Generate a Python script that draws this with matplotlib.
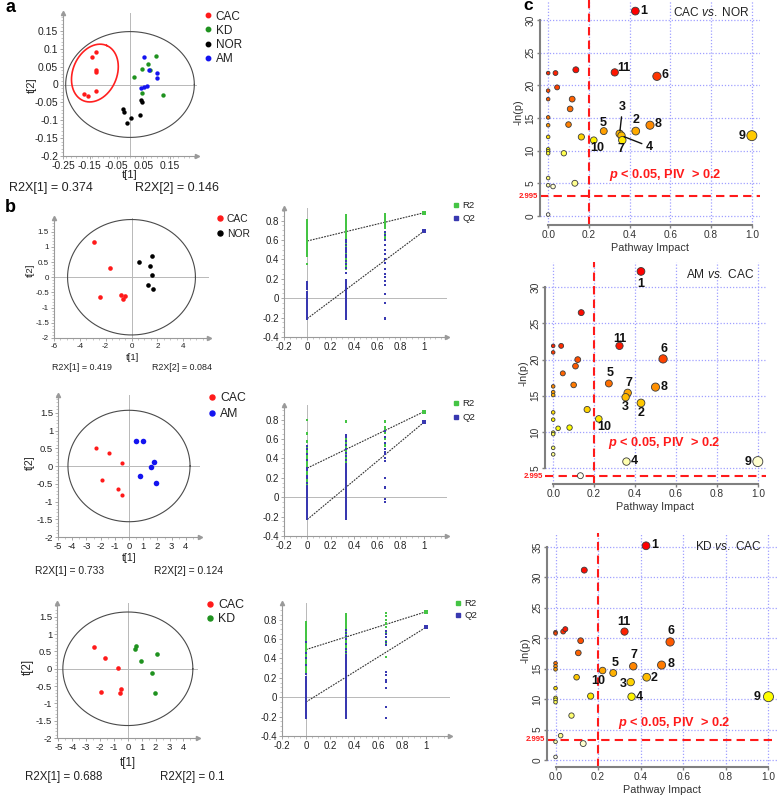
import colorsys
import numpy as np
import matplotlib
matplotlib.use('Agg')
import matplotlib.pyplot as plt
from matplotlib.lines import Line2D
from matplotlib.ticker import FuncFormatter, MultipleLocator

W, H = 778, 798

plt.rcParams['font.family'] = ['Liberation Sans', 'DejaVu Sans']
plt.rcParams['mathtext.fontset'] = 'custom'
plt.rcParams['mathtext.rm'] = 'Liberation Sans'
plt.rcParams['mathtext.it'] = 'Liberation Sans:italic'
plt.rcParams['mathtext.bf'] = 'Liberation Sans:bold'
plt.rcParams['mathtext.bfit'] = 'Liberation Sans:bold:italic'

# ---------------- data: panel a (PCA scores, 4 groups) ----------------
a_cac_t1 = [-0.127, -0.143, -0.128, -0.128, -0.172, -0.155, -0.128]
a_cac_t2 = [0.091, 0.077, 0.041, 0.035, -0.027, -0.031, -0.018]
a_kd_t1 = [0.096, 0.068, 0.046, 0.075, 0.016, 0.044, 0.122]
a_kd_t2 = [0.081, 0.058, 0.042, 0.041, 0.022, -0.025, -0.030]
a_nor_t1 = [-0.027, -0.021, 0.004, -0.010, 0.040, 0.044, 0.039]
a_nor_t2 = [-0.069, -0.078, -0.094, -0.107, -0.043, -0.050, -0.085]
a_am_t1 = [0.053, 0.072, 0.100, 0.100, 0.062, 0.053, 0.041]
a_am_t2 = [0.078, 0.041, 0.033, 0.019, -0.003, -0.006, -0.011]
a_r2x = ['0.374', '0.146']
a_t2_ellipse = [0.24, 0.148]

# ---------------- data: panel b (OPLS-DA scores) ----------------
b1_cac_t1 = [-2.91, -1.66, -2.44, -0.83, -0.49, -0.65]
b1_cac_t2 = [1.17, 0.32, -0.65, -0.58, -0.63, -0.72]
b1_nor_t1 = [1.58, 0.60, 1.45, 1.58, 1.25, 1.64]
b1_nor_t2 = [0.71, 0.51, 0.38, 0.08, -0.27, -0.39]
b1_r2x = ['0.419', '0.084']
b1_t2_ellipse = [4.95, 1.9]

b2_cac_t1 = [-2.30, -1.43, -0.52, -1.87, -0.77, -0.52]
b2_cac_t2 = [0.52, 0.38, 0.09, -0.40, -0.65, -0.83]
b2_am_t1 = [0.52, 1.01, 1.73, 1.57, 0.75, 1.87]
b2_am_t2 = [0.70, 0.71, 0.11, -0.04, -0.27, -0.49]
b2_r2x = ['0.733', '0.124']
b2_t2_ellipse = [4.3, 1.57]

b3_cac_t1 = [-2.47, -1.61, -0.72, -1.94, -0.48, -0.53]
b3_cac_t2 = [0.63, 0.32, 0.01, -0.66, -0.57, -0.69]
b3_kd_t1 = [0.60, 0.48, 0.96, 2.09, 1.75, 1.92]
b3_kd_t2 = [0.65, 0.56, 0.22, 0.43, -0.13, -0.69]
b3_r2x = ['0.688', '0.1']
b3_t2_ellipse = [4.68, 1.64]

# ---------------- data: panel b (permutation tests) ----------------
perm_x = [0.0, 0.333, 0.667]

p1_r2_x0 = [0.35, 0.43, 0.45, 0.46, 0.48, 0.49, 0.51, 0.52, 0.54, 0.55, 0.57, 0.58, 0.6, 0.61,
            0.63, 0.64, 0.66, 0.67, 0.69, 0.7, 0.72, 0.73, 0.75, 0.76, 0.78, 0.79, 0.81]
p1_q2_x0 = [-0.21, -0.2, -0.18, -0.17, -0.15, -0.13, -0.12, -0.1, -0.08, -0.07, -0.05, -0.04,
            -0.02, 0.0, 0.01, 0.03, 0.04, 0.06, 0.1, 0.12, 0.13, 0.15, 0.17]
p1_r2_x33 = [0.3, 0.33, 0.35, 0.37, 0.39, 0.41, 0.43, 0.45, 0.47, 0.49, 0.5, 0.52, 0.54, 0.56,
             0.58, 0.6, 0.62, 0.64, 0.66, 0.68, 0.7, 0.72, 0.74, 0.76, 0.78, 0.8, 0.82, 0.84, 0.86]
p1_q2_x33 = [-0.21, -0.2, -0.18, -0.17, -0.15, -0.14, -0.12, -0.1, -0.09, -0.07, -0.05, -0.04,
             -0.02, 0.0, 0.02, 0.04, 0.05, 0.07, 0.09, 0.11, 0.13, 0.15, 0.17, 0.19, 0.26, 0.31,
             0.35, 0.38, 0.42, 0.45, 0.48, 0.5, 0.52, 0.55, 0.58, 0.6]
p1_r2_x67 = [0.62, 0.64, 0.66, 0.68, 0.72, 0.74, 0.76, 0.78, 0.8, 0.82, 0.84, 0.86, 0.87]
p1_q2_x67 = [-0.21, -0.2, -0.05, 0.04, 0.14, 0.18, 0.22, 0.25, 0.3, 0.36, 0.4, 0.46, 0.5, 0.55,
             0.6, 0.65, 0.68]
p1_orig = [0.88, 0.69]        # R2, Q2 of the real model
p1_intercept = [0.59, -0.21]  # R2, Q2 intercepts

p2_r2_x0 = [0.14, 0.16, 0.18, 0.2, 0.22, 0.24, 0.26, 0.28, 0.3, 0.32, 0.34, 0.36, 0.38, 0.4,
            0.42, 0.44, 0.46, 0.48, 0.5, 0.52, 0.57, 0.58, 0.65, 0.66, 0.8]
p2_q2_x0 = [-0.22, -0.2, -0.18, -0.16, -0.14, -0.12, -0.1, -0.08, -0.06, -0.04, -0.02, 0.0, 0.02,
            0.04, 0.06, 0.08, 0.1, 0.12, 0.15, 0.2, 0.22, 0.28, 0.3, 0.38, 0.45, 0.5, 0.53]
p2_r2_x33 = [0.2, 0.22, 0.24, 0.26, 0.28, 0.3, 0.32, 0.34, 0.36, 0.38, 0.4, 0.42, 0.44, 0.46,
             0.48, 0.5, 0.52, 0.54, 0.56, 0.58, 0.6, 0.62, 0.64, 0.77, 0.78]
p2_q2_x33 = [-0.22, -0.2, -0.18, -0.16, -0.14, -0.12, -0.1, -0.08, -0.06, -0.04, -0.02, 0.0, 0.02,
             0.04, 0.06, 0.08, 0.1, 0.12, 0.14, 0.16, 0.18, 0.2, 0.22, 0.24, 0.26, 0.28, 0.3, 0.32,
             0.34, 0.38, 0.42, 0.46, 0.5, 0.54, 0.58, 0.62, 0.64]
p2_r2_x67 = [0.53, 0.55, 0.6, 0.66, 0.7, 0.72, 0.77, 0.78]
p2_q2_x67 = [-0.05, -0.02, 0.09, 0.1, 0.2, 0.37, 0.4, 0.44, 0.47, 0.5, 0.56, 0.62, 0.68]
p2_orig = [0.88, 0.77]
p2_intercept = [0.30, -0.23]

p3_r2_x0 = [0.26, 0.28, 0.3, 0.32, 0.34, 0.36, 0.38, 0.4, 0.42, 0.44, 0.46, 0.48, 0.5, 0.52,
            0.54, 0.56, 0.58, 0.6, 0.62, 0.64, 0.66, 0.68, 0.7, 0.72, 0.74, 0.76, 0.77]
p3_q2_x0 = [-0.21, -0.19, -0.17, -0.15, -0.13, -0.11, -0.09, -0.07, -0.05, -0.03, -0.01, 0.01,
            0.03, 0.05, 0.07, 0.09, 0.11, 0.13, 0.15, 0.17, 0.19, 0.21, 0.24, 0.33, 0.4, 0.45, 0.57]
p3_r2_x33 = [0.43, 0.45, 0.47, 0.49, 0.51, 0.53, 0.55, 0.57, 0.59, 0.61, 0.63, 0.65, 0.67, 0.69,
             0.71, 0.73, 0.75, 0.77, 0.79, 0.81, 0.83, 0.85, 0.86]
p3_q2_x33 = [-0.21, -0.19, -0.17, -0.15, -0.13, -0.11, -0.09, -0.07, -0.05, -0.03, -0.01, 0.01,
             0.03, 0.05, 0.07, 0.09, 0.11, 0.13, 0.15, 0.17, 0.19, 0.21, 0.23, 0.25, 0.27, 0.29,
             0.31, 0.33, 0.35, 0.37, 0.39, 0.41, 0.43, 0.47, 0.5, 0.55, 0.6, 0.63, 0.66, 0.69]
p3_r2_x67 = [0.41, 0.56, 0.58, 0.62, 0.67, 0.72, 0.75, 0.76, 0.8, 0.84, 0.87]
p3_q2_x67 = [-0.21, -0.1, 0.09, 0.16, 0.18, 0.23, 0.26, 0.54, 0.57, 0.62, 0.65, 0.68]
p3_orig = [0.88, 0.72]
p3_intercept = [0.49, -0.05]

# ---------------- data: panel c (pathway analysis) ----------------
c1_impact = [0.428, 0.327, 0.534, 0.273, 0.430, 0.500, 0.351, 0.360, 0.364, 0.224, 1.000,
             0.136, 0.036, 0.0, 0.044, 0.0, 0.0, 0.118, 0.108, 0.0, 0.100, 0.0, 0.163, 0.0,
             0.0, 0.0, 0.0, 0.077, 0.0, 0.0, 0.024, 0.131, 0.0]
c1_lnp = [31.4, 22.0, 21.4, 13.0, 13.0, 13.9, 12.6, 12.3, 11.6, 11.6, 12.3,
          22.4, 21.9, 21.9, 19.7, 19.2, 17.9, 17.9, 16.4, 15.1, 14.0, 13.9, 12.1, 12.1,
          10.2, 9.9, 9.6, 9.6, 5.8, 4.7, 4.5, 5.0, 0.2]
c1_label = ['1', '11', '6', '5', '2', '8', '3', '4', '7', '10', '9'] + [''] * 22

c2_impact = [0.429, 0.324, 0.537, 0.272, 0.364, 0.500, 0.354, 0.429, 0.223, 0.358, 1.000,
             0.137, 0.0, 0.039, 0.0, 0.120, 0.109, 0.047, 0.100, 0.0, 0.0, 0.0, 0.166, 0.0,
             0.0, 0.0, 0.0, 0.024, 0.080, 0.0, 0.0, 0.133]
c2_lnp = [32.2, 21.9, 20.1, 16.7, 15.4, 16.2, 14.8, 14.0, 11.8, 5.9, 5.9,
          26.5, 21.9, 21.9, 21.0, 20.0, 19.1, 18.1, 16.5, 16.3, 15.5, 15.1, 13.1, 12.7,
          11.7, 9.9, 9.7, 10.5, 10.6, 7.8, 6.9, 3.95]
c2_label = ['1', '11', '6', '5', '7', '8', '3', '2', '10', '4', '9'] + [''] * 21

c3_impact = [0.425, 0.324, 0.538, 0.365, 0.498, 0.271, 0.221, 0.353, 0.428, 0.357, 1.000,
             0.135, 0.0, 0.0, 0.036, 0.046, 0.118, 0.107, 0.0, 0.0, 0.0, 0.099, 0.0, 0.0,
             0.0, 0.0, 0.165, 0.075, 0.024, 0.0, 0.130, 0.0]
c3_lnp = [35.2, 21.1, 19.4, 15.4, 15.6, 14.3, 14.7, 12.8, 13.6, 10.4, 10.4,
          31.2, 21.0, 20.8, 21.1, 21.5, 19.6, 17.6, 15.9, 15.4, 14.9, 13.6, 11.8, 10.2,
          9.9, 9.5, 10.5, 7.3, 4.0, 3.0, 2.7, 0.5]
c3_label = ['1', '11', '6', '7', '8', '5', '10', '3', '2', '4', '9'] + [''] * 21

c_titles = [('CAC', 'NOR'), ('AM', 'CAC'), ('KD', 'CAC')]
p_cut = '2.995'

# label offsets in pixels (dx right, dy up) -- layout only
c1_offsets = {'1': (8, 0), '11': (9, 4), '6': (8, 1), '5': (-1, 8), '2': (0, 11), '8': (8, 1),
              '3': (3, 27), '4': (28, -11), '7': (-1, -9), '10': (3, -8), '9': (-10, 0)}
c2_offsets = {'1': (0, -13), '11': (0, 7), '6': (1, 10), '5': (1, 10), '7': (1, 10), '8': (9, 0),
              '3': (0, -10), '2': (0, -10), '10': (5, -8), '4': (8, 1), '9': (-10, 0)}
c3_offsets = {'1': (9, 1), '11': (-1, 10), '6': (1, 11), '7': (1, 11), '8': (9, 1), '5': (2, 10),
              '10': (-4, -10), '3': (-7, -2), '2': (7, -1), '4': (8, 0), '9': (-11, 0)}

RED, GREEN, BLACK, BLUE = '#ff1a1a', '#1f921f', '#000000', '#1414f0'
PR2, PQ2 = '#44c444', '#3838b0'

fig = plt.figure(figsize=(W / 100, H / 100), dpi=100)


def px_rect(l, t, r, b):
    return [l / W, 1 - b / H, (r - l) / W, (b - t) / H]


def ftext(x, y, s, **kw):
    return fig.text(x / W, 1 - y / H, s, **kw)


gfmt = FuncFormatter(lambda v, p: f'{v:g}')


def simca_axes(rect, xlim, ylim, xticks, yticks, xminor, yminor, fs):
    ax = fig.add_axes(px_rect(*rect))
    ax.patch.set_alpha(0)
    ax.set_xlim(xlim)
    ax.set_ylim(ylim)
    ax.set_xticks(xticks)
    ax.set_yticks(yticks)
    ax.xaxis.set_minor_locator(MultipleLocator(xminor))
    ax.yaxis.set_minor_locator(MultipleLocator(yminor))
    ax.xaxis.set_major_formatter(gfmt)
    ax.yaxis.set_major_formatter(gfmt)
    for s in ('top', 'right'):
        ax.spines[s].set_visible(False)
    for s in ('left', 'bottom'):
        ax.spines[s].set_color('#9a9a9a')
        ax.spines[s].set_linewidth(0.8)
    ax.tick_params(which='major', length=2.5, width=0.6, color='#9a9a9a', labelsize=fs,
                   pad=1, labelcolor='#222222')
    ax.tick_params(which='minor', length=1.3, width=0.5, color='#b0b0b0')
    ax.axhline(0, color='#b8b8b8', lw=0.7, zorder=0)
    ax.axvline(0, color='#b8b8b8', lw=0.7, zorder=0)
    ax.plot([1], [0], marker='>', ms=3, color='#9a9a9a', transform=ax.transAxes, clip_on=False)
    ax.plot([0], [1], marker='^', ms=3, color='#9a9a9a', transform=ax.transAxes, clip_on=False)
    return ax


def t2_ellipse(ax, radii):
    t = np.linspace(0, 2 * np.pi, 200)
    ax.plot(radii[0] * np.cos(t), radii[1] * np.sin(t), color='#4a4a4a', lw=0.8, zorder=1)


def legend_at(ax, colors, labels, mx, my, fs, step, ms=3.2, marker='o'):
    fs_px = fs * 100 / 72
    handles = [Line2D([], [], ls='', marker=marker, color=c, ms=ms) for c in colors]
    leg = ax.legend(handles, labels, loc='upper left', frameon=False, fontsize=fs,
                    bbox_to_anchor=((mx - 0.3 * fs_px) / W, 1 - (my - 0.38 * fs_px) / H),
                    bbox_transform=fig.transFigure, handlelength=0.6, handletextpad=0.35,
                    labelspacing=max((step - 0.9 * fs_px) / fs_px, 0), borderpad=0,
                    borderaxespad=0)
    for t in leg.get_texts():
        t.set_color('#222222')
    return leg


# ---------------- panel a ----------------
ax = simca_axes((63, 13, 197, 156), (-0.25, 0.25), (-0.2, 0.2),
                [-0.25, -0.15, -0.05, 0.05, 0.15], [-0.2, -0.15, -0.1, -0.05, 0, 0.05, 0.1, 0.15],
                0.02, 0.01, 7.5)
t2_ellipse(ax, a_t2_ellipse)
for xs, ys, c in [(a_cac_t1, a_cac_t2, RED), (a_kd_t1, a_kd_t2, GREEN),
                  (a_nor_t1, a_nor_t2, BLACK), (a_am_t1, a_am_t2, BLUE)]:
    ax.scatter(xs, ys, s=10, color=c, linewidths=0, zorder=3)
# red circle around the CAC cluster (drawn in pixel space, converted to data units)
tt = np.linspace(0, 2 * np.pi, 200)
ang = np.deg2rad(23)
ex = 30 * np.cos(tt) * np.sin(ang) + 22 * np.sin(tt) * np.cos(ang)
ey = 30 * np.cos(tt) * np.cos(ang) - 22 * np.sin(tt) * np.sin(ang)
ax.plot(-0.131 + ex / 268, 0.032 + ey / 358, color='#ff2020', lw=1.2, zorder=2)
legend_at(ax, [RED, GREEN, BLACK, BLUE], ['CAC', 'KD', 'NOR', 'AM'], 208, 15, 8.5, 12.7)
ftext(130, 175, 't[1]', fontsize=8, ha='center', va='center', color='#222222')
ftext(32, 85, 't[2]', fontsize=8, ha='center', va='center', rotation=90, color='#222222')
ftext(51, 188, f'R2X[1] = {a_r2x[0]}', fontsize=9, ha='center', va='center', color='#222222')
ftext(177, 188, f'R2X[2] = {a_r2x[1]}', fontsize=9, ha='center', va='center', color='#222222')

# ---------------- panel b: score plots ----------------
score_rows = [
    dict(rect=(54, 218, 209, 338), xlim=(-6, 6), ylim=(-2, 1.95), xt=[-6, -4, -2, 0, 2, 4],
         xminor=0.5, fs=5.8, ell=b1_t2_ellipse,
         groups=[(b1_cac_t1, b1_cac_t2, RED, 'CAC', 11), (b1_nor_t1, b1_nor_t2, BLACK, 'NOR', 11)],
         leg=(220, 218, 7.4, 14), t1=(132, 357), t2=(30, 270), r2x=b1_r2x, r2xy=(82, 182, 367),
         r2fs=6.4, lfs=6.8),
    dict(rect=(58, 395, 200, 537), xlim=(-5, 5), ylim=(-2, 2), xt=list(range(-5, 5)),
         xminor=0.5, fs=6.8, ell=b2_t2_ellipse,
         groups=[(b2_cac_t1, b2_cac_t2, RED, 'CAC', 9), (b2_am_t1, b2_am_t2, BLUE, 'AM', 16)],
         leg=(212, 397, 8.8, 15), t1=(129, 558), t2=(30, 463), r2x=b2_r2x, r2xy=(70, 188, 571),
         r2fs=7.4, lfs=7.6),
    dict(rect=(57, 603, 198, 738), xlim=(-5.1, 5.05), ylim=(-2, 1.9), xt=list(range(-5, 5)),
         xminor=0.5, fs=6.8, ell=b3_t2_ellipse,
         groups=[(b3_cac_t1, b3_cac_t2, RED, 'CAC', 11), (b3_kd_t1, b3_kd_t2, GREEN, 'KD', 11)],
         leg=(210, 604, 8.9, 13), t1=(128, 763), t2=(28, 667), r2x=b3_r2x, r2xy=(64, 192, 777),
         r2fs=8.3, lfs=8.3),
]
for row in score_rows:
    ax = simca_axes(row['rect'], row['xlim'], row['ylim'], row['xt'],
                    [-2, -1.5, -1, -0.5, 0, 0.5, 1, 1.5], row['xminor'], 0.1, row['fs'])
    t2_ellipse(ax, row['ell'])
    for xs, ys, c, name, s in row['groups']:
        ax.scatter(xs, ys, s=s, color=c, linewidths=0, zorder=3)
    lx, ly, lfs, lstep = row['leg']
    legend_at(ax, [g[2] for g in row['groups']], [g[3] for g in row['groups']], lx, ly, lfs, lstep,
              ms=3.6)
    ftext(*row['t1'], 't[1]', fontsize=row['lfs'], ha='center', va='center', color='#222222')
    ftext(*row['t2'], 't[2]', fontsize=row['lfs'], ha='center', va='center', rotation=90,
          color='#222222')
    x1, x2, yy = row['r2xy']
    ftext(x1, yy, f"R2X[1] = {row['r2x'][0]}", fontsize=row['r2fs'], ha='center', va='center',
          color='#222222')
    ftext(x2, yy, f"R2X[2] = {row['r2x'][1]}", fontsize=row['r2fs'], ha='center', va='center',
          color='#222222')

# ---------------- panel b: permutation plots ----------------
perm_rows = [
    dict(rect=(284, 208, 447, 337), ylim=(-0.4, 0.93),
         r2=[p1_r2_x0, p1_r2_x33, p1_r2_x67], q2=[p1_q2_x0, p1_q2_x33, p1_q2_x67],
         orig=p1_orig, icpt=p1_intercept, leg=(456, 205, 6.8, 12)),
    dict(rect=(284, 405, 447, 536), ylim=(-0.4, 0.95),
         r2=[p2_r2_x0, p2_r2_x33, p2_r2_x67], q2=[p2_q2_x0, p2_q2_x33, p2_q2_x67],
         orig=p2_orig, icpt=p2_intercept, leg=(456, 403, 6.8, 13)),
    dict(rect=(282, 603, 450, 736), ylim=(-0.4, 0.97),
         r2=[p3_r2_x0, p3_r2_x33, p3_r2_x67], q2=[p3_q2_x0, p3_q2_x33, p3_q2_x67],
         orig=p3_orig, icpt=p3_intercept, leg=(458, 603, 6.8, 11)),
]
for row in perm_rows:
    ax = simca_axes(row['rect'], (-0.2, 1.2), row['ylim'], [-0.2, 0, 0.2, 0.4, 0.6, 0.8, 1],
                    [-0.4, -0.2, 0, 0.2, 0.4, 0.6, 0.8], 0.05, 0.05, 7)
    for xp, vals in zip(perm_x, row['r2']):
        ax.scatter(np.full(len(vals), xp), vals, s=4.5, marker='s', color=PR2, linewidths=0,
                   zorder=3)
    for xp, vals in zip(perm_x, row['q2']):
        ax.scatter(np.full(len(vals), xp), vals, s=4.5, marker='s', color=PQ2, linewidths=0,
                   zorder=3)
    ax.scatter([1], [row['orig'][0]], s=7, marker='s', color=PR2, linewidths=0, zorder=3)
    ax.scatter([1], [row['orig'][1]], s=7, marker='s', color=PQ2, linewidths=0, zorder=3)
    for k in range(2):
        ax.plot([0, 1], [row['icpt'][k], row['orig'][k]], ls=(0, (1.6, 1.0)), color='#333333',
                lw=0.8, zorder=2)
    lx, ly, lfs, lstep = row['leg']
    legend_at(ax, [PR2, PQ2], ['R2', 'Q2'], lx, ly, lfs, lstep, ms=2.6, marker='s')


# ---------------- panel c: pathway bubble plots ----------------
def heat_colors(n):
    # same ramp as R's heat.colors(n)
    j = n // 4
    i = n - j
    cols = [colorsys.hsv_to_rgb((1 / 6) * k / max(i - 1, 1), 1, 1) for k in range(i)]
    if j > 0:
        s_hi, s_lo = 1 - 1 / (2 * j), 1 / (2 * j)
        for k in range(j):
            s = s_hi + (s_lo - s_hi) * (k / (j - 1) if j > 1 else 0)
            cols.append(colorsys.hsv_to_rgb(1 / 6, s, 1))
    return cols


def pathway_axes(rect, impact, lnp, labels, offsets, ylim, yticks, ybounds, thr_y, title,
                 title_xy, ptext_xy, links=()):
    ax = fig.add_axes(px_rect(*rect))
    ax.patch.set_alpha(0)
    ax.set_xlim(-0.04, 1.04)
    ax.set_ylim(ylim)
    ax.set_xticks([0, 0.2, 0.4, 0.6, 0.8, 1.0])
    ax.set_yticks(yticks)
    ax.xaxis.set_major_formatter(FuncFormatter(lambda v, p: f'{v:.1f}'))
    ax.yaxis.set_major_formatter(gfmt)
    ax.grid(True, color='#a0a0ff', ls=(0, (1, 1.5)), lw=0.9)
    ax.set_axisbelow(True)
    for s in ('top', 'right'):
        ax.spines[s].set_visible(False)
    for s in ('left', 'bottom'):
        ax.spines[s].set_color('#808080')
        ax.spines[s].set_linewidth(1.5)
    ax.spines['left'].set_bounds(*ybounds)
    ax.spines['bottom'].set_bounds(0, 1)
    ax.tick_params(length=2.5, width=1, color='#808080', labelsize=7.3, pad=1,
                   labelcolor='#333333')
    ax.tick_params(axis='y', labelrotation=90)
    for t in ax.get_yticklabels():
        t.set_va('center')
    ax.axvline(0.2, color='#ff1a1a', ls=(0, (4, 2.5)), lw=1.5, zorder=2)
    ax.axhline(thr_y, color='#ff1a1a', ls=(0, (4, 2.5)), lw=1.5, zorder=2)
    ax.annotate(p_cut, xy=(0, thr_y), xycoords=('axes fraction', 'data'), xytext=(-1.5, 0),
                textcoords='offset points', ha='right', va='center', color='#ff1a1a',
                fontsize=5.6, fontweight='bold', annotation_clip=False)

    y = np.asarray(lnp)
    pal = heat_colors(len(y))
    order = np.argsort(-y, kind='stable')
    cols = [None] * len(y)
    for r, idx in enumerate(order):
        cols[idx] = pal[r]
    rad = 1.8 + 3.2 * np.sqrt(np.asarray(impact))
    sizes = (1.44 * rad) ** 2
    ax.scatter(impact, lnp, s=sizes, c=cols, edgecolors='#3a3a3a', linewidths=0.6, zorder=3,
               clip_on=False)
    for xi, yi, lab in zip(impact, lnp, labels):
        if not lab:
            continue
        dx, dy = offsets[lab]
        arrow = dict(arrowstyle='-', color='#111111', lw=1.0, shrinkA=1, shrinkB=2) \
            if lab in links else None
        ax.annotate(lab, (xi, yi), xytext=(dx * 0.72, dy * 0.72), textcoords='offset points',
                    ha='center', va='center', fontsize=9, fontweight='bold', color='#111111',
                    arrowprops=arrow, zorder=4)
    ax.set_xlabel('Pathway Impact', fontsize=7.8, labelpad=2, color='#333333')
    ax.set_ylabel('-ln(p)', fontsize=7.8, labelpad=1, color='#333333')
    ftext(*title_xy, rf'{title[0]} $\mathit{{vs.}}$ {title[1]}', fontsize=8.6, ha='center',
          va='center', color='#222222')
    ftext(*ptext_xy, r'$\mathbfit{p}$ < 0.05, PIV  > 0.2', fontsize=9.2, fontweight='bold',
          ha='center', va='center', color='#ff1a1a')
    return ax


pathway_axes((540, 0, 760, 225), c1_impact, c1_lnp, c1_label, c1_offsets, (-1.4, 33.1),
             list(range(0, 31, 5)), (0, 30), 2.995, c_titles[0], (711, 13), (665, 175),
             links=('3', '4'))
pathway_axes((545, 262, 766, 484), c2_impact, c2_lnp, c2_label, c2_offsets, (2.8, 33.5),
             list(range(5, 31, 5)), (5, 30), 3.9, c_titles[1], (720, 275), (664, 443))
pathway_axes((547, 533, 777, 767), c3_impact, c3_lnp, c3_label, c3_offsets, (-1.15, 37.3),
             list(range(0, 36, 5)), (0, 35), 3.3, c_titles[2], (728, 547), (674, 723))

# panel letters
ftext(5, 7, 'a', fontsize=13, fontweight='bold', ha='left', va='center')
ftext(5, 207, 'b', fontsize=13, fontweight='bold', ha='left', va='center')
ftext(523, 6, 'c', fontsize=12.5, fontweight='bold', ha='left', va='center')

fig.savefig('out.png', dpi=100)
